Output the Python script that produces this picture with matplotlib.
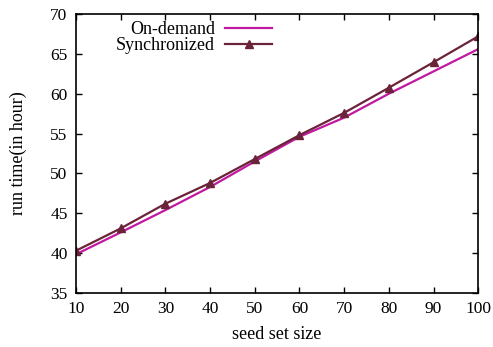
import matplotlib
matplotlib.use("Agg")
import matplotlib.pyplot as plt

seed_sizes = [10, 20, 30, 40, 50, 60, 70, 80, 90, 100]
on_demand = [39.85, 42.6, 45.4, 48.3, 51.5, 54.6, 57.0, 60.0, 62.8, 65.6]
synchronized = [40.3, 43.1, 46.2, 48.8, 51.8, 54.8, 57.6, 60.75, 63.95, 67.2]
y_ticks = [35, 40, 45, 50, 55, 60, 65, 70]

plt.rcParams['font.family'] = ['Liberation Serif', 'DejaVu Serif']
plt.rcParams['font.size'] = 12

fig = plt.figure(figsize=(4.93, 3.47), dpi=100)
ax = fig.add_axes([0.154, 0.1556, 0.816, 0.804])

ax.plot(seed_sizes, on_demand, color='#c0189e', lw=1.6, label='On-demand')
ax.plot(seed_sizes, synchronized, color='#6a2338', lw=1.6, marker='^', markersize=5.5,
        label='Synchronized')

ax.set_xlim(10, 100)
ax.set_ylim(35, 70)
ax.set_xticks(seed_sizes)
ax.set_yticks(y_ticks)
ax.tick_params(direction='in', top=True, right=True, length=4.5, width=1, pad=6,
               labelsize=12.5)
for s in ax.spines.values():
    s.set_linewidth(1.2)

ax.set_xlabel('seed set size', fontsize=13)
ax.xaxis.set_label_coords(0.5, -0.12)
ax.set_ylabel('run time(in hour)', fontsize=13)
ax.yaxis.set_label_coords(-0.122, 0.5)

leg = ax.legend(loc='upper right', bbox_to_anchor=(0.4876, 0.975), frameon=False,
                markerfirst=False, handlelength=2.6, borderaxespad=0.0, borderpad=0.0,
                labelspacing=-0.05, handletextpad=0.55, fontsize=13)
for t in leg.get_texts():
    t.set_ha('right')
leg._legend_box.align = 'right'

fig.savefig('out.png', dpi=100)
